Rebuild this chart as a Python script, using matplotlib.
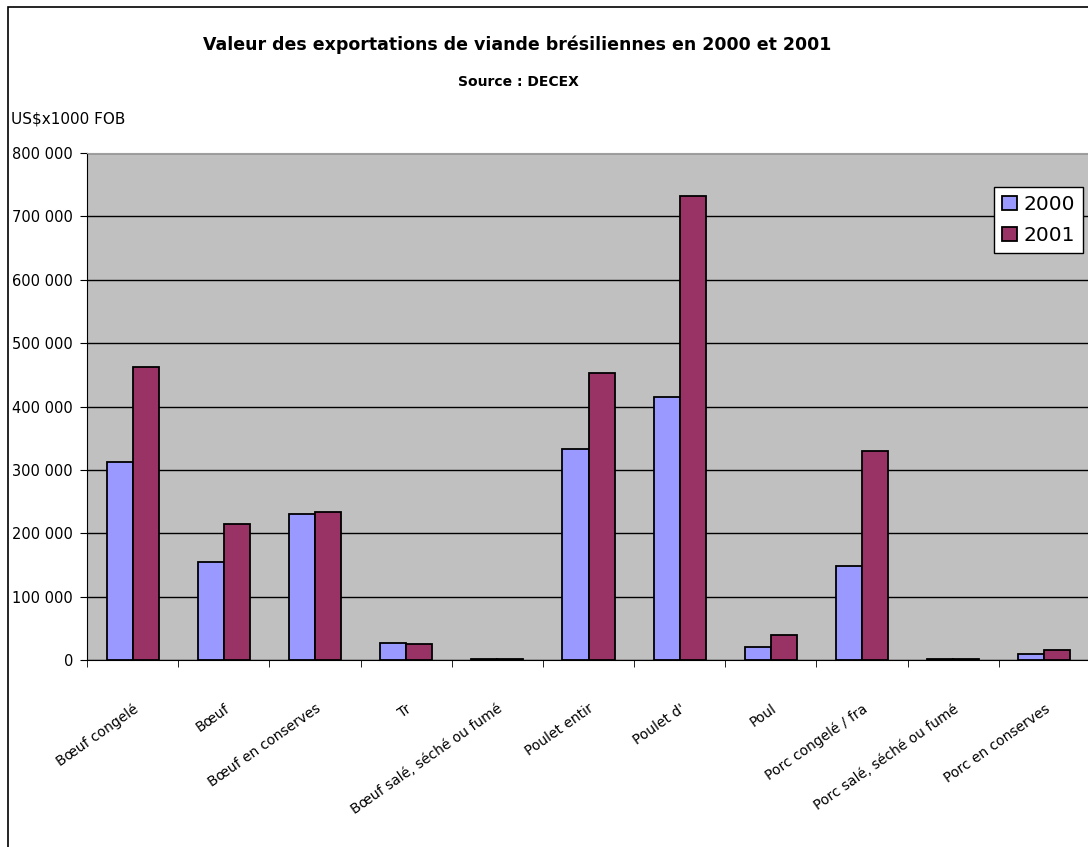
import matplotlib
matplotlib.use('Agg')
import matplotlib.pyplot as plt
import numpy as np
from matplotlib.ticker import FuncFormatter
from matplotlib.patches import Rectangle

# données (US$ x1000 FOB)
produits = ['Bœuf congelé', 'Bœuf', 'Bœuf en conserves', 'Tr',
            'Bœuf salé, séché ou fumé', 'Poulet entir', "Poulet d'",
            'Poul', 'Porc congelé / fra', 'Porc salé, séché ou fumé',
            'Porc en conserves']
annees = ['2000', '2001']
val_2000 = [312000, 154000, 231000, 27000, 2000, 333000, 415000,
            20000, 149000, 2000, 9000]
val_2001 = [462000, 214000, 233000, 25000, 2000, 453000, 732000,
            40000, 330000, 2000, 16000]

plt.rcParams['font.family'] = ['DejaVu Sans']

fig = plt.figure(figsize=(10.88, 8.47), dpi=100)
W, H = 1088, 847
ax = fig.add_axes([87/W, (H-660)/H, 1003/W, 507/H])

# cadre du graphique
fig.patches.append(Rectangle((8/W, -0.1), 1.2, 1 - 7/H + 0.1, transform=fig.transFigure,
                             fill=False, edgecolor='black', linewidth=1.2))

x = np.arange(len(produits))
w = 0.286
ax.set_facecolor('#C0C0C0')
ax.bar(x - w/2, val_2000, w, color='#9999FF', edgecolor='black', linewidth=1.3,
       label=annees[0], zorder=3)
ax.bar(x + w/2, val_2001, w, color='#993366', edgecolor='black', linewidth=1.3,
       label=annees[1], zorder=3)

ax.set_xlim(-0.5, len(produits) - 0.5)
ax.set_ylim(0, 800000)
ax.set_yticks(np.arange(0, 800001, 100000))
ax.yaxis.set_major_formatter(FuncFormatter(lambda v, p: f'{int(v):,}'.replace(',', ' ')))
ax.grid(axis='y', color='black', linewidth=1, zorder=1)
ax.tick_params(axis='y', labelsize=10.5, length=5, direction='out', pad=5)

ax.set_xticks(np.arange(len(produits) + 1) - 0.5, minor=True)
ax.set_xticks(x)
ax.set_xticklabels(produits, rotation=35, ha='right', rotation_mode='anchor', fontsize=10)
ax.tick_params(axis='x', which='major', length=0, pad=30)
ax.tick_params(axis='x', which='minor', length=5, direction='out')

ax.spines['top'].set_color('#A0A0A0')
ax.spines['right'].set_visible(False)
ax.spines['left'].set_color('black')
ax.spines['bottom'].set_color('black')

leg = ax.legend(loc='upper right', bbox_to_anchor=(1083/W, (H-187)/H),
                bbox_transform=fig.transFigure, fontsize=14.5, frameon=True,
                fancybox=False, edgecolor='black', facecolor='white', framealpha=1,
                handlelength=0.75, handleheight=0.75, handletextpad=0.3,
                borderpad=0.4, labelspacing=0.6, borderaxespad=0)
leg.get_frame().set_linewidth(1)

fig.text(517/W, 1 - 45/H, 'Valeur des exportations de viande brésiliennes en 2000 et 2001',
         ha='center', va='center', fontsize=12.5, fontweight='bold')
fig.text(518/W, 1 - 82/H, 'Source : DECEX', ha='center', va='center',
         fontsize=10, fontweight='bold')
fig.text(11/W, 1 - 119/H, 'US$x1000 FOB', ha='left', va='center', fontsize=11)

fig.savefig('out.png', dpi=100)
